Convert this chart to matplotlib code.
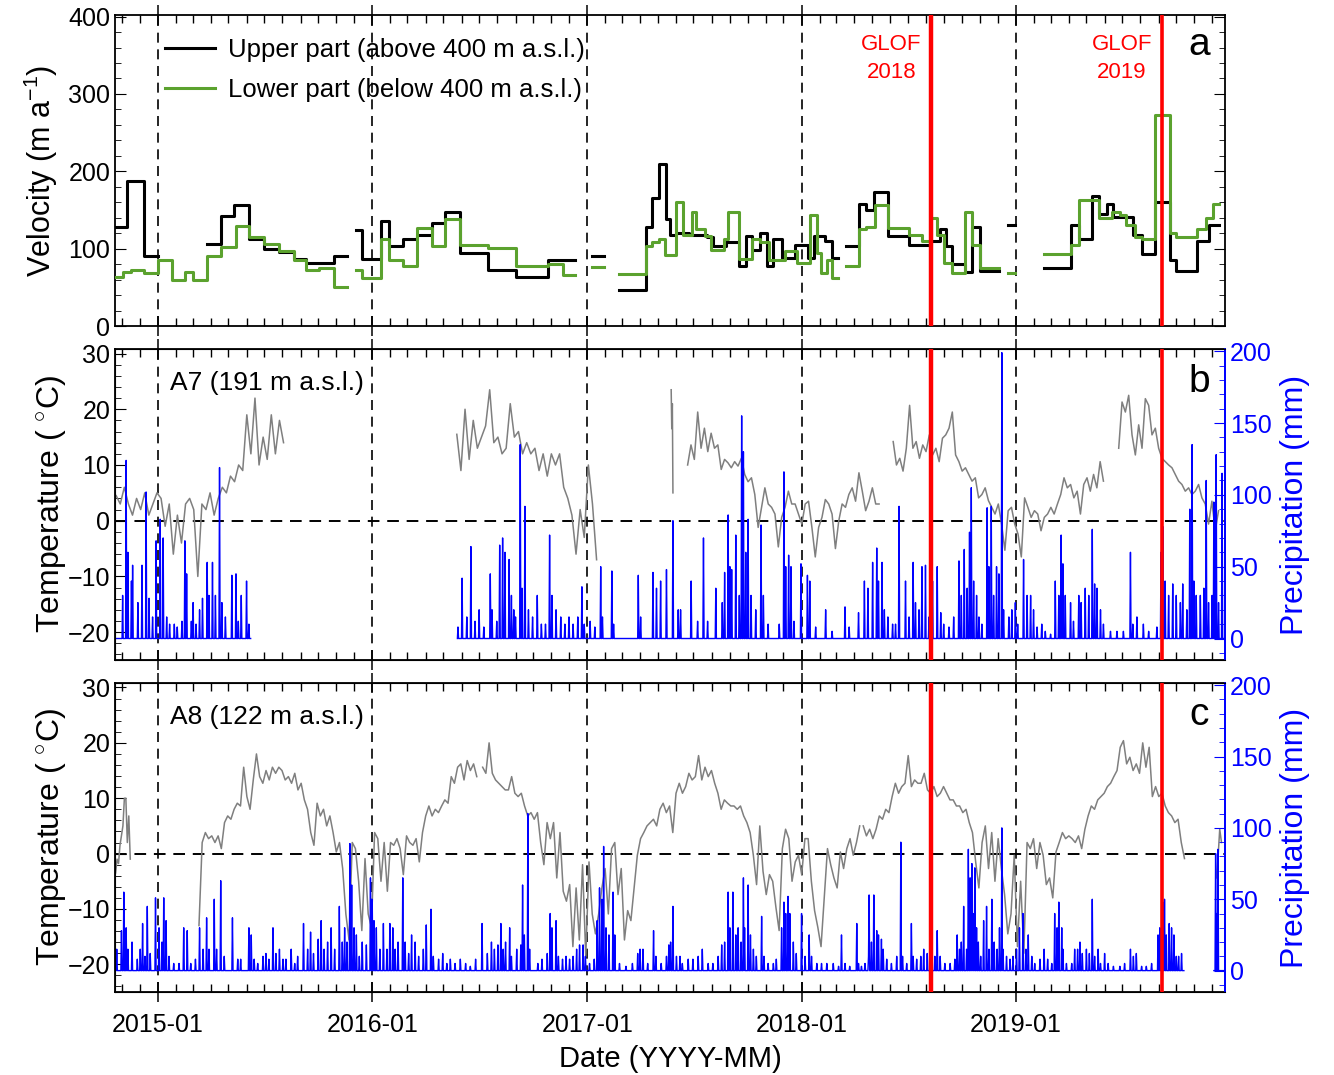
import numpy as np
import matplotlib
matplotlib.use('Agg')
import matplotlib.pyplot as plt
import matplotlib.dates as mdates
from matplotlib.ticker import MultipleLocator

plt.rcParams['font.family'] = ['Liberation Sans', 'DejaVu Sans']
plt.rcParams['mathtext.fontset'] = 'custom'
plt.rcParams['mathtext.rm'] = 'Liberation Sans'

# ---------- data (days counted from 2015-01-01) ----------
# velocity, step intervals; nan = no data
upper_edges = [-71, -52, -23, 0, 84, 108, 129, 155, 180, 206, 231, 253, 300, 322, 337, 348, 380, 393, 417, 442,
               467, 489, 515, 562, 609, 664, 711, 740, 760, 785, 831, 842, 853, 865, 872, 883, 905, 935, 946, 968,
               990, 1001, 1012, 1026, 1037, 1048, 1063, 1085, 1107, 1118, 1136, 1147, 1158, 1171, 1193, 1206, 1219,
               1243, 1279, 1316, 1331, 1342, 1353, 1375, 1386, 1400, 1433, 1448, 1459, 1509, 1554, 1569, 1591, 1602,
               1616, 1627, 1660, 1675, 1697, 1723, 1734, 1770, 1789, 1807]
upper_vals = [128, 187, 91, np.nan, 106, 142, 156, 113, 100, 96, 87, 81, 90, np.nan, 124, 87, 136, 103, 112, 118,
              133, 147, 94, 73, 63, 85, np.nan, 90, np.nan, 46, 128, 165, 210, 138, 118, 120, 118, 115, 103, 108,
              78, 117, 98, 120, 78, 112, 88, 105, 88, 116, 110, 88, np.nan, 104, 158, 150, 173, 117, 105, 110,
              125, 103, 80, 70, 128, 71, np.nan, 130, np.nan, 75, 130, 113, 168, 145, 158, 141, 118, 93, 160, 85,
              71, 110, 130]
lower_edges = [-71, -60, -45, -23, 0, 24, 46, 60, 84, 108, 133, 155, 180, 206, 231, 253, 275, 300, 322, 337,
               348, 380, 393, 417, 442, 467, 489, 515, 562, 609, 664, 689, 711, 740, 760, 785, 831, 842, 853, 864,
               883, 894, 909, 916, 931, 942, 964, 971, 990, 1012, 1026, 1041, 1067, 1089, 1111, 1122, 1129, 1140,
               1147, 1158, 1171, 1193, 1206, 1221, 1243, 1279, 1301, 1316, 1327, 1338, 1353, 1375, 1386, 1400,
               1433, 1448, 1459, 1509, 1554, 1569, 1602, 1624, 1638, 1649, 1664, 1675, 1697, 1723, 1734, 1770,
               1785, 1796, 1807]
lower_vals = [63, 70, 72, 69, 85, 60, 70, 60, 91, 102, 129, 115, 106, 97, 85, 73, 75, 51, np.nan, 72,
              62, 112, 85, 78, 127, 104, 138, 105, 101, 77, 80, 66, np.nan, 76, np.nan, 67, 104, 108, 113, 92,
              160, 118, 148, 125, 117, 98, 112, 148, 87, 113, 108, 85, 97, 82, 143, 95, 68, 85, 62, np.nan,
              78, 125, 128, 157, 127, 118, 110, 140, 118, 82, 68, 148, 105, 75, np.nan, 68, np.nan, 93, 105, 163,
              140, 148, 143, 130, 115, 113, 273, 120, 115, 125, 140, 158]

# A7 temperature segments (start, end, values)
tb1 = ('2014-10-22', '2015-08-03',
       [4.5, 3, 6, 3, 1, 4, 2, 5, 1, 3, 5, 4, -1, 3, -6, 1, -4, 3, 4, 2, -10, 3, 2, 5, 1, 4, 6, 5, 8, 7, 10, 9,
        19, 12, 22, 10, 15, 11, 19, 12, 18, 14])
tb2 = ('2016-05-24', '2017-01-17',
       [15.5, 9, 20, 11, 18, 13, 15, 17, 23.5, 14, 15, 12, 13, 21, 15, 16, 12, 14, 12, 13, 9, 12, 8, 12, 10, 12,
        6, 4, 1, -6, 2, -3, 10, 3, -7])
tb3 = ('2017-05-24', '2017-05-27', [23.5, 16.5, 21, 5])
tb4 = ('2017-06-21', '2018-05-13',
       [10, 13.6, 11, 19.5, 13, 16.6, 12.4, 15.7, 13, 13.6, 9.2, 11, 10.4, 9.5, 10.6, 9.8, 11.2, 8.3, 7, 7.7, 4.7,
        -1.2, 2.4, 5.9, 3, 2.4, 1.2, -4.7, 0.6, 2.4, 5.3, 3, 3, 1.2, -0.6, 3, 3.5, -1.2, -6.5, -1.2, 0.6, 3.8, 3,
        1.2, -5, 0, 3, 2.4, 4.7, 5.9, 3.5, 8.6, 5.3, 1.8, 3.5, 5.9, 3, 3])
tb5 = ('2018-06-06', '2019-05-30',
       [14.2, 10, 11.2, 8.9, 13, 20.7, 13, 14.2, 11.2, 13.6, 12.4, 15.4, 11.8, 13, 10.6, 14.8, 15.4, 16.6, 19.5,
        11.8, 10.6, 8.9, 9.5, 8.3, 7.1, 7.7, 4.1, 4.7, 5.9, 3.6, 2.4, 1.2, 3, -0.6, -5.3, 1.8, 2.4, -0.6, -2.4,
        -6.5, 4.1, 2.4, 0.6, 1.8, 1.2, -1.8, 0.6, 1.2, 2.4, 1.2, 3, 4.7, 7.7, 5.9, 6.5, 4.1, 5.3, 1.2, 6.5, 7.7,
        5.3, 8.3, 5.9, 10.6, 7.1])
tb6 = ('2019-06-25', '2019-12-12',
       [13, 21.3, 19.5, 22.5, 15.4, 11.8, 17.2, 13, 21.9, 20.7, 15.4, 16.6, 13, 11.2, 10.6, 10, 9.5, 8.3, 7.1,
        6.5, 5.3, 5.9, 4.7, 5.3, 6.5, 4.1, 3, -0.6, 3.5, -1.8, 1.8])

# A8 temperature segments
tc1 = ('2014-10-21', '2014-11-15', [-3.5, -1, -1.8, 1.5, 3.2, 5, 10, 10, 2, 6.8, -1])
tc2 = ('2015-03-12', '2016-06-27',
       [-13, 2, 3.8, 2.7, 3.2, 2, 3.2, 0.9, 5.6, 6.8, 6.2, 8, 9.1, 8.6, 15.6, 10.3, 8, 13.3, 18, 13.9, 12.7, 15,
        13.3, 15.6, 14.5, 15.6, 15, 13.3, 13.9, 12.7, 14.5, 11.5, 12.7, 9.7, 8, 3.8, 1.5, 9.1, 6.8, 8, 5, 6.8, 3.8,
        0.3, 2, -2.7, -10.9, -15.6, 2, 0.9, -5, -13.9, -0.9, -10.9, -13.3, 3.8, 2.7, -5, 2, -6.8, 2, 1.5, 2.7,
        0.9, -3.8, 3.2, 2, 1.5, 2.7, -1.5, 3.8, 6.8, 8.6, 6.8, 8, 7.4, 8.6, 9.7, 9.1, 13.9, 12.7, 15.6, 16.2,
        13.3, 16.8, 15, 16.2, 13.9])
tc3 = ('2016-07-07', '2018-04-10',
       [15.6, 14.5, 20, 14.5, 13.3, 12.7, 12.1, 11.5, 11.5, 13.9, 10.9, 10.3, 10.9, 8.6, 6.8, 7.4, 6.2, 7.4, 2, -2,
        5.6, 2.7, 5.6, -4.4, 3.8, -6.8, -8.6, -5.6, -16.8, -6.2, -15.6, -2, -18.6, -1.5, -10.9, -14.5, -10.9,
        -6.2, -2.7, -10.9, 0.9, 2, -7.4, -2.7, -15.6, -10.3, -12.1, -6.2, -0.3, 2.7, 3.8, 5, 5.6, 6.2, 5, 8, 9.1,
        7.4, 8.6, 3.8, 10.9, 12.7, 10.9, 12.1, 14.5, 13.3, 13.9, 17.7, 13.3, 15.6, 13.9, 15, 12.7, 10.9, 8, 9.7,
        9.1, 8.6, 8.6, 8, 8.6, 6.8, 5.6, 3.8, -0.3, -5.6, 5, -3.2, -7.4, -3.8, -5, -9.7, -13.9, 0.9, 4.4, 2.7,
        -5, -1.5, -0.3, -3.8, 2.7, 2.7, -5, -10.3, -13.3, -16.8, -8, 0.9, -2, -4.4, -6.2, 0.3, -2.7, 0.9, 2.7,
        -0.3, 2, 5])
tc4 = ('2018-04-16', '2019-10-15',
       [5, 3.2, 4.4, 2.7, 4.4, 6.8, 6.2, 8, 7.4, 10.3, 12.7, 10.9, 12.1, 12.7, 17.7, 12.1, 13.3, 12.7, 12.7, 14.5,
        11.5, 10.9, 12.1, 10.3, 10.9, 12.1, 10.9, 9.7, 9.7, 8.6, 8.6, 7.4, 8, 5.6, 3.8, -1.5, -6.2, 2, 5, -2.7,
        3.8, -5, 2.7, -2.7, -7.4, -14.5, -10.9, -0.3, -16.8, -5, -18, 2, 0.9, 2.7, -2.7, 2, -0.3, -5.6, -4.4, -8,
        0.3, 2, 3.8, 2.7, 3.2, 2.7, 2, 3.2, 0.9, 4.4, 6.8, 8.6, 8, 9.7, 10.3, 10.9, 12.1, 12.7, 13.9, 15, 19.2,
        20.4, 16.2, 17.4, 15, 16.2, 14.5, 20, 15.6, 19.2, 10.3, 12.1, 10.3, 10.9, 8.6, 7.4, 6.8, 5.6, 6.2, 2,
        -0.9])
tc5 = ('2019-12-08', '2019-12-17', [-4.4, -1, 4.4, 2])

# precipitation: recording periods and rain days (days from 2015-01-01, mm)
pb_periods = [(-71, 158), (510, 1816)]
pb_days = [-60, -54, -51, -45, -43, -34, -27, -20, -15, -9, -3, 4, 9, 15, 20, 28, 33, 41, 46, 49, 57, 60, 65, 71,
           76, 84, 87, 93, 98, 105, 109, 115, 126, 133, 137, 142, 151, 155,
           511, 518, 526, 533, 540, 547, 555, 566, 569, 577, 582, 587, 591, 598, 602, 606, 609, 617, 620, 625, 631,
           638, 646, 653, 660, 667, 671, 678, 686, 693, 700, 707, 715, 722, 726, 736, 744, 754, 757, 773, 776,
           818, 822, 843, 849, 856, 866, 877, 886, 890, 908, 919, 929, 936, 950, 961, 965, 971, 974, 977, 984,
           990, 994, 997, 1001, 1005, 1010, 1018, 1027, 1031, 1039, 1058, 1066, 1069, 1074, 1078, 1083, 1095,
           1106, 1110, 1120, 1137, 1148, 1170, 1177, 1193, 1203, 1209, 1217, 1224, 1227, 1233, 1237, 1243, 1251,
           1256, 1262, 1273, 1279, 1286, 1290, 1296, 1301, 1307, 1313, 1319, 1327, 1333, 1338, 1347, 1355, 1364,
           1368, 1373, 1378, 1382, 1385, 1389, 1394, 1398, 1403, 1412, 1415, 1419, 1423, 1428, 1432, 1437, 1440,
           1449, 1454, 1460, 1464, 1474, 1480, 1486, 1491, 1497, 1505, 1511, 1520, 1528, 1534, 1538, 1541, 1545,
           1554, 1559, 1568, 1572, 1579, 1585, 1591, 1595, 1599, 1605, 1610, 1622, 1633, 1644, 1656, 1660, 1667,
           1678, 1687, 1701, 1708, 1711, 1715, 1721, 1728, 1734, 1741, 1745, 1752, 1757, 1761, 1764, 1768, 1775,
           1781, 1785, 1789, 1795, 1798, 1802, 1806, 1812]
pb_mm = [30, 124, 60, 40, 51, 25, 51, 102, 28, 15, 68, 83, 70, 15, 10, 10, 8, 12, 68, 45, 12, 25, 10, 20,
         28, 53, 30, 53, 30, 119, 25, 15, 44, 45, 12, 30, 40, 10,
         8, 42, 15, 64, 12, 20, 8, 45, 20, 12, 65, 70, 60, 55, 30, 20, 15, 135, 35, 92, 20,
         15, 30, 10, 10, 72, 30, 20, 15, 10, 15, 10, 15, 36, 10, 12, 8, 50, 15, 47, 10,
         44, 15, 46, 35, 40, 48, 82, 20, 20, 40, 12, 70, 12, 35, 25, 46, 86, 50, 48, 72,
         30, 155, 130, 60, 83, 30, 20, 79, 30, 10, 10, 116, 50, 58, 50, 12, 52,
         44, 40, 8, 20, 5, 22, 8, 18, 40, 35, 53, 63, 40, 53, 20, 15, 10,
         10, 92, 40, 15, 53, 25, 20, 50, 51, 15, 40, 50, 18, 10, 8, 15, 54,
         30, 62, 35, 74, 105, 40, 30, 15, 10, 91, 50, 92, 30, 50, 45, 199, 20,
         15, 20, 25, 10, 55, 30, 30, 20, 8, 10, 5, 3, 40, 30, 72, 52, 30,
         25, 12, 30, 25, 35, 30, 76, 38, 35, 20, 10, 5, 5, 5, 60, 10, 15,
         10, 5, 8, 60, 78, 40, 30, 38, 30, 25, 38, 20, 90, 135, 40, 30, 30,
         35, 110, 25, 30, 95, 128, 25, 115]

pc_periods = [(-72, 1747), (1798, 1816)]
pc_days = [-70, -62, -58, -54, -51, -44, -35, -30, -26, -22, -18, -13, -4, 2, 7, 10, 14, 19, 27, 36, 44, 50, 56,
           64, 71, 77, 83, 87, 96, 100, 107, 113, 127, 136, 141, 155, 159, 164, 170, 179, 184, 189, 196, 201,
           207, 213, 218, 227, 233, 238, 248, 255, 260, 265, 273, 278, 283, 289, 295, 301, 309, 314, 318, 322,
           327, 330, 334, 338, 343, 348, 355, 362, 365, 368, 372, 378, 384, 390, 395, 400, 404, 409, 417, 421,
           427, 432, 438, 444, 452, 457, 465, 469, 478, 485, 492, 498, 506, 515, 524, 532, 541, 552, 561,
           568, 573, 579, 584, 588, 592, 599, 602, 611, 618, 621, 624, 630, 633, 647, 654, 663, 668, 671, 678,
           682, 689, 695, 701, 707, 713, 718, 724, 728, 735, 743, 748, 752, 756, 759, 763, 768, 775, 778, 786,
           797, 808, 817, 821, 826, 834, 844, 848, 857, 866, 870, 873, 877, 883, 889, 893, 903, 911, 920, 927,
           937, 945, 954, 960, 965, 971, 974, 979, 984, 988, 993, 997, 999, 1005, 1009, 1014, 1019, 1028, 1032,
           1039, 1048, 1053, 1062, 1066, 1069, 1073, 1076, 1082, 1087, 1096, 1102, 1109, 1113, 1122, 1130, 1139,
           1150, 1159, 1164, 1170, 1178, 1190, 1193, 1198, 1204, 1210, 1211, 1215, 1219, 1224, 1227, 1232, 1235,
           1241, 1249, 1258, 1265, 1268, 1275, 1283, 1286, 1292, 1299, 1304, 1310, 1317, 1323, 1327, 1332, 1340,
           1349, 1357, 1361, 1365, 1368, 1372, 1377, 1380, 1383, 1386, 1388, 1391, 1394, 1397, 1401, 1406, 1411,
           1415, 1420, 1424, 1429, 1433, 1437, 1439, 1445, 1451, 1456, 1462, 1467, 1473, 1478, 1482, 1488, 1493,
           1502, 1509, 1515, 1522, 1527, 1531, 1534, 1539, 1541, 1547, 1556, 1561, 1566, 1570, 1574, 1581, 1586,
           1591, 1595, 1601, 1605, 1612, 1618, 1627, 1638, 1646, 1656, 1661, 1666, 1675, 1683, 1692, 1703, 1706,
           1711, 1714, 1717, 1722, 1726, 1730, 1734, 1738, 1743, 1801, 1803, 1805]
pc_mm = [15, 28, 55, 30, 15, 20, 8, 15, 33, 10, 45, 12, 51, 30, 20, 51, 35, 10, 5, 5, 30, 28, 5,
         8, 30, 15, 37, 15, 50, 15, 63, 10, 37, 8, 8, 30, 25, 8, 5, 10, 12, 8, 30, 12,
         15, 8, 8, 15, 5, 10, 33, 15, 27, 12, 22, 35, 15, 20, 30, 15, 45, 20, 30, 20,
         89, 60, 30, 25, 10, 20, 18, 65, 50, 35, 30, 15, 33, 15, 33, 30, 15, 20, 65, 20,
         12, 25, 20, 10, 15, 32, 43, 10, 8, 12, 5, 8, 5, 8, 5, 3, 8, 33, 12,
         20, 15, 18, 33, 15, 20, 30, 10, 15, 18, 60, 25, 110, 15, 5, 8, 12, 40, 30, 35,
         10, 8, 10, 8, 10, 15, 18, 18, 10, 5, 8, 35, 58, 50, 87, 30, 25, 55, 25, 5,
         3, 5, 12, 15, 15, 5, 28, 10, 5, 10, 18, 20, 45, 10, 10, 5, 8, 8, 10, 15,
         5, 5, 10, 18, 20, 55, 30, 55, 25, 30, 20, 65, 30, 60, 25, 15, 10, 38, 10,
         5, 5, 8, 30, 48, 40, 52, 40, 20, 12, 40, 10, 25, 10, 5, 5, 5,
         5, 3, 25, 5, 3, 33, 5, 3, 5, 10, 53, 20, 53, 28, 25, 22, 15,
         8, 5, 10, 90, 10, 5, 33, 10, 8, 10, 15, 12, 8, 10, 28, 10, 5,
         5, 8, 25, 15, 20, 45, 15, 85, 65, 75, 40, 72, 30, 20, 10, 35, 45,
         15, 50, 20, 15, 30, 100, 15, 10, 8, 10, 15, 30, 40, 15, 25, 10, 5,
         8, 15, 8, 5, 40, 30, 48, 30, 15, 5, 5, 15, 15, 20, 12, 15, 12,
         50, 10, 15, 5, 12, 5, 3, 3, 5, 15, 10, 12, 3, 3, 5, 25, 30,
         48, 50, 25, 33, 30, 25, 10, 10, 12, 82, 40, 85]

glof_dates = ['2018-08-10', '2019-09-06']
glof_labels = ['GLOF\n2018', 'GLOF\n2019']
years = ['2015-01-01', '2016-01-01', '2017-01-01', '2018-01-01', '2019-01-01']

# ---------- helpers ----------
base = mdates.datestr2num('2015-01-01')


def seg_xy(segs):
    xs, ys = [], []
    for s, e, v in segs:
        xs.append(np.linspace(mdates.datestr2num(s), mdates.datestr2num(e), len(v)))
        ys.append(np.array(v, float))
        xs.append([np.nan]); ys.append([np.nan])
    return np.concatenate(xs), np.concatenate(ys)


def precip_xy(periods, days, mm):
    xs, ys = [], []
    for a, b in periods:
        d = np.arange(a, b + 1)
        p = np.zeros(len(d))
        for day, v in zip(days, mm):
            if a <= day <= b:
                p[day - a] = v
        xs.append(d + base); ys.append(p)
        xs.append([np.nan]); ys.append([np.nan])
    return np.concatenate(xs), np.concatenate(ys)


def steps(edges, vals):
    x = np.repeat(np.array(edges, float), 2)[1:-1] + base
    y = np.repeat(np.array(vals, float), 2)
    return x, y


xmin = base - 73
xmax = base + 1817
fs = 18
green = '#5ba22e'

fig = plt.figure(figsize=(13.34, 10.75), dpi=100)
axa = fig.add_axes([0.0862, 0.6967, 0.8321, 0.2893])
axb = fig.add_axes([0.0862, 0.3860, 0.8321, 0.2893])
axc = fig.add_axes([0.0862, 0.0772, 0.8321, 0.2874])


def style_x(ax, labels):
    ax.set_xlim(xmin, xmax)
    ax.xaxis.set_major_locator(mdates.YearLocator())
    ax.xaxis.set_minor_locator(mdates.MonthLocator())
    ax.xaxis.set_major_formatter(mdates.DateFormatter('%Y-%m'))
    ax.tick_params(axis='x', which='major', direction='inout', length=14, width=1.1, top=True,
                   labelbottom=labels, labelsize=18, pad=8)
    ax.tick_params(axis='x', which='minor', direction='in', length=6, width=1, top=True)
    for y in years:
        ax.axvline(mdates.datestr2num(y), color='black', ls=(0, (6, 4)), lw=1.2, zorder=1)
    for sp in ax.spines.values():
        sp.set_linewidth(1.3)


# ---- panel a ----
xu, yu = steps(upper_edges, upper_vals)
xl, yl = steps(lower_edges, lower_vals)
axa.plot(xu, yu, color='black', lw=2.2, label='Upper part (above 400 m a.s.l.)', zorder=3)
axa.plot(xl, yl, color=green, lw=2.2, label='Lower part (below 400 m a.s.l.)', zorder=4)
axa.set_ylim(0, 402)
axa.yaxis.set_major_locator(MultipleLocator(100))
axa.yaxis.set_minor_locator(MultipleLocator(20))
axa.tick_params(axis='y', which='major', direction='in', length=8, right=True, labelsize=fs)
axa.tick_params(axis='y', which='minor', direction='in', length=4, right=True)
axa.set_ylabel('Velocity (m a$^{-1}$)', fontsize=22, labelpad=6)
style_x(axa, False)
axa.legend(loc='upper left', bbox_to_anchor=(0.024, 1.0), frameon=False, fontsize=18.5,
           handlelength=1.95, handletextpad=0.5, labelspacing=0.62)
for d, lab in zip(glof_dates, glof_labels):
    gx = mdates.datestr2num(d)
    axa.axvline(gx, color='red', lw=3.2 if '2018' in d else 2.6, zorder=6)
    axa.text(gx - 68, 378, lab, color='red', fontsize=16, ha='center', va='top', linespacing=1.45)
axa.text(0.977, 0.905, 'a', transform=axa.transAxes, fontsize=28, ha='center', va='center')

# ---- panels b and c ----
panels = [(axb, [tb1, tb2, tb3, tb4, tb5, tb6], pb_periods, pb_days, pb_mm, 'A7 (191 m a.s.l.)', 'b', False),
          (axc, [tc1, tc2, tc3, tc4, tc5], pc_periods, pc_days, pc_mm, 'A8 (122 m a.s.l.)', 'c', True)]
for ax, tsegs, per, pdays, pmm, station, letter, lab in panels:
    tx, ty = seg_xy(tsegs)
    ax.plot(tx, ty, color='#7f7f7f', lw=1.1, zorder=2)
    ax.axhline(0, color='black', ls=(0, (6, 4)), lw=1.4, zorder=1)
    ax.set_ylim(-25, 30.8)
    ax.yaxis.set_major_locator(MultipleLocator(10))
    ax.yaxis.set_minor_locator(MultipleLocator(2))
    ax.tick_params(axis='y', which='major', direction='in', length=8, labelsize=fs)
    ax.tick_params(axis='y', which='minor', direction='in', length=4)
    ax.set_ylabel('Temperature ( $^{\\circ}$C)', fontsize=23, labelpad=0)
    style_x(ax, lab)

    ax2 = ax.twinx()
    px, py = precip_xy(per, pdays, pmm)
    ax2.plot(px, py, color='blue', lw=1.0, zorder=2)
    ax2.set_ylim(-15, 201.5)
    ax2.yaxis.set_major_locator(MultipleLocator(50))
    ax2.yaxis.set_minor_locator(MultipleLocator(10))
    ax2.tick_params(axis='y', which='major', direction='in', length=8, colors='blue', labelsize=fs)
    ax2.tick_params(axis='y', which='minor', direction='in', length=4, colors='blue')
    ax2.spines['right'].set_color('blue')
    ax2.spines['right'].set_linewidth(1.3)
    ax.spines['right'].set_color('blue')
    ax2.set_ylabel('Precipitation (mm)', fontsize=23, color='blue', labelpad=6)
    for d in glof_dates:
        ax2.axvline(mdates.datestr2num(d), color='red', lw=3.2 if '2018' in d else 2.6, zorder=6)
    ax2.text(0.05, 0.89, station, transform=ax.transAxes, fontsize=19, ha='left', va='center')
    ax2.text(0.977, 0.895, letter, transform=ax.transAxes, fontsize=28, ha='center', va='center')

axc.set_xlabel('Date (YYYY-MM)', fontsize=21, labelpad=6)

fig.savefig('out.png', dpi=100)
